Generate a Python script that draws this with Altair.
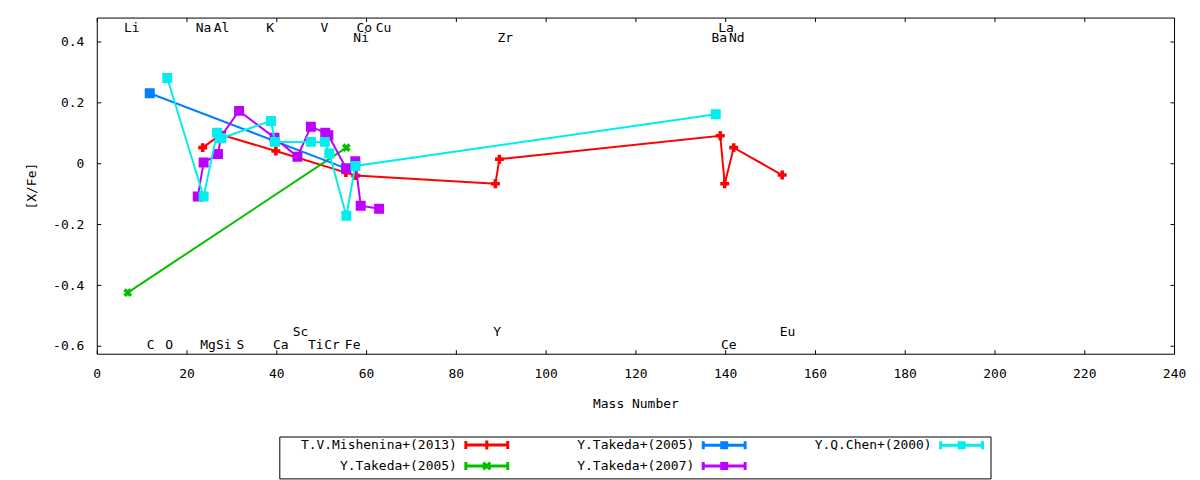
import altair as alt
import pandas as pd

FONT = "DejaVu Sans Mono"

# ---------------- data ----------------
# T.V.Mishenina+(2013)  (red)
mish_x = [23.6, 27.6, 39.9, 55.5, 57.7, 88.8, 89.7, 138.9, 139.9, 141.9, 152.7]
mish_y = [0.052, 0.095, 0.041, -0.030, -0.040, -0.067, 0.014, 0.091, -0.067, 0.052, -0.038]
# Y.Takeda+(2005)  (green)
takg_x = [6.9, 55.6]
takg_y = [-0.425, 0.052]
# Y.Takeda+(2005)  (blue)
takb_x = [11.8, 55.5]
takb_y = [0.231, -0.016]
# Y.Takeda+(2007)  (purple)
tak7_x = [22.5, 23.8, 27.0, 27.7, 31.7, 39.6, 44.7, 47.7, 50.9, 51.6, 55.6, 57.6, 58.8, 62.9]
tak7_y = [-0.109, 0.003, 0.031, 0.090, 0.173, 0.085, 0.022, 0.121, 0.101, 0.093, -0.017, 0.007, -0.139, -0.149]
# Y.Q.Chen+(2000)  (cyan)
chen_x = [15.7, 23.8, 26.8, 27.7, 38.8, 39.7, 47.7, 50.8, 51.8, 55.6, 57.6, 137.9]
chen_y = [0.281, -0.109, 0.101, 0.083, 0.140, 0.071, 0.071, 0.071, 0.033, -0.172, -0.008, 0.162]

series_names = ["T.V.Mishenina+(2013)", "Y.Takeda+(2005)", "Y.Takeda+(2005)",
                "Y.Takeda+(2007)", "Y.Q.Chen+(2000)"]
series_colors = ["#ff0000", "#00c000", "#0080ff", "#c000ff", "#00eeee"]

# element labels
elem_names = ["Li", "Na", "Al", "K", "V", "Co", "Cu", "La",
              "Ni", "Zr", "Ba", "Nd",
              "Sc", "Y", "Eu",
              "C", "O", "Mg", "Si", "S", "Ca", "Ti", "Cr", "Fe", "Ce"]
elem_x = [7.8, 23.8, 27.8, 38.6, 50.7, 59.6, 63.9, 140.2,
          58.9, 91.0, 138.7, 142.6,
          45.4, 89.2, 153.9,
          12.0, 16.1, 24.8, 28.3, 32.0, 41.0, 48.8, 52.4, 57.0, 140.8]
elem_y = [0.446] * 8 + [0.414] * 4 + [-0.553] * 3 + [-0.597] * 10

x_ticks = [0, 20, 40, 60, 80, 100, 120, 140, 160, 180, 200, 220, 240]
y_ticks = [-0.6, -0.4, -0.2, 0, 0.2, 0.4]
x_domain = [0, 240]
y_domain = [-0.626, 0.48]

# ---------------- scales / axes ----------------
xscale = alt.Scale(domain=x_domain, nice=False, zero=False)
yscale = alt.Scale(domain=y_domain, nice=False, zero=False)

xaxis = alt.Axis(values=x_ticks, tickSize=4, offset=-4, labelPadding=14,
                 title="Mass Number", titlePadding=17, labelFlush=False,
                 labelOverlap=False)
yaxis = alt.Axis(values=y_ticks, tickSize=4, offset=-4, labelPadding=13,
                 title="[X/Fe]", titlePadding=14, labelOverlap=False,
                 labelExpr="replace(format(datum.value, '.1~f'), '\u2212', '-')")
xaxis_top = alt.Axis(orient="top", values=x_ticks, tickSize=4, offset=-4,
                     labels=False, title=None)
yaxis_right = alt.Axis(orient="right", values=y_ticks, tickSize=4, offset=-4,
                       labels=False, title=None)


def series_layers(xs, ys, color, shape, size, angle=0):
    df = pd.DataFrame({"x": xs, "y": ys, "i": list(range(len(xs)))})
    enc = dict(x=alt.X("x:Q", scale=xscale, axis=xaxis),
               y=alt.Y("y:Q", scale=yscale, axis=yaxis))
    line = alt.Chart(df).mark_line(color=color, strokeWidth=2, clip=True).encode(
        order="i:Q", **enc)
    pts = alt.Chart(df).mark_point(filled=True, shape=shape, size=size, angle=angle,
                                   color=color, opacity=1, clip=True).encode(**enc)
    return [line, pts]


layers = []
layers += series_layers(mish_x, mish_y, series_colors[0], "cross", 80)
layers += series_layers(takg_x, takg_y, series_colors[1], "cross", 80, 45)
layers += series_layers(takb_x, takb_y, series_colors[2], "square", 100)
layers += series_layers(tak7_x, tak7_y, series_colors[3], "square", 100)
layers += series_layers(chen_x, chen_y, series_colors[4], "square", 100)

# ---------------- legend (gnuplot-like key: right-justified text, then sample) ----------------
# symbol paths in pixel units (symbolSize 4 -> scale 1), sample drawn right of label
a, b = 178.5, 220.5
c = (a + b) / 2
cap = "M%g,-4V4M%g,0H%gM%g,-4V4" % (a, a, b, b)
sym_plus = cap + "M%g,-4.5V4.5" % c
sym_x = cap + "M%g,-3.5L%g,3.5M%g,3.5L%g,-3.5" % (c - 3.5, c + 3.5, c - 3.5, c + 3.5)
sym_sq = cap + "M%g,-2.5H%gV2.5H%gZ" % (c - 2.5, c + 2.5, c - 2.5)
sym_paths = [sym_plus, sym_x, sym_sq, sym_sq, sym_sq]

# key entries fill columns of two rows: red, green | blue, purple | cyan
keys = ["s%d" % k for k in range(5)]

label_expr = ""
for k, lab in zip(keys, series_names):
    label_expr += "datum.value == '%s' ? '%s' : " % (k, lab)
label_expr += "''"

leg = alt.Legend(title=None, orient="none", legendX=183, legendY=420, columns=3,
                 symbolSize=4, symbolStrokeWidth=3, labelFont=FONT,
                 labelFontSize=13, labelColor="black", labelAlign="right",
                 labelOffset=163, labelLimit=400, columnPadding=5,
                 rowPadding=0, padding=2, strokeColor="black", labelExpr=label_expr,
                 symbolOpacity=1)

carrier = pd.DataFrame({"x": [-5000] * 5, "y": [0] * 5, "key": keys})
legend_layer = alt.Chart(carrier).mark_point(opacity=1, strokeWidth=3, clip=True).encode(
    x=alt.X("x:Q", scale=xscale, axis=xaxis),
    y=alt.Y("y:Q", scale=yscale, axis=yaxis),
    fill=alt.Fill("key:N", scale=alt.Scale(domain=keys, range=series_colors), legend=leg),
    stroke=alt.Stroke("key:N", scale=alt.Scale(domain=keys, range=series_colors), legend=leg),
    shape=alt.Shape("key:N", scale=alt.Scale(domain=keys, range=sym_paths), legend=leg),
)
layers.append(legend_layer)

# ---------------- element labels ----------------
lab_df = pd.DataFrame({"x": elem_x, "y": elem_y, "t": elem_names})
text = alt.Chart(lab_df).mark_text(font=FONT, fontSize=13, color="black",
                                   align="center", baseline="middle").encode(
    x=alt.X("x:Q", scale=xscale, axis=xaxis_top),
    y=alt.Y("y:Q", scale=yscale, axis=yaxis_right),
    text="t:N",
)

inner = alt.layer(*layers)
chart = alt.layer(inner, text).resolve_axis(x="independent", y="independent").properties(
    width=1080, height=337,
    padding={"left": 89, "top": 9, "right": 18, "bottom": 126},
    autosize=alt.AutoSizeParams(type="none"),
    background="white",
).configure_view(stroke="black", strokeWidth=1).configure_axis(
    labelFont=FONT, titleFont=FONT, labelFontSize=13, titleFontSize=13,
    titleFontWeight="normal", labelColor="black", titleColor="black",
    tickColor="black", tickWidth=1, domain=False, grid=False,
)

chart.save("out.html", embed_options={"renderer": "svg", "actions": False})
